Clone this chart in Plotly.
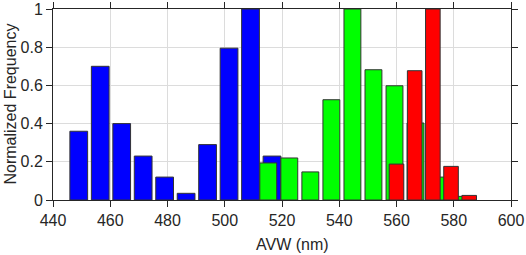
import plotly.graph_objects as go

blue_x = [449, 456.5, 464, 471.5, 479, 486.5, 494, 501.5, 509, 516.5]
blue_y = [0.36, 0.70, 0.40, 0.23, 0.12, 0.035, 0.29, 0.795, 1.0, 0.23]

green_x = [515.2, 522.55, 529.9, 537.25, 544.6, 551.95, 559.3, 566.65, 574.0, 581.35]
green_y = [0.194, 0.22, 0.147, 0.525, 1.0, 0.682, 0.598, 0.403, 0.12, 0.019]

red_x = [560.0, 566.35, 572.7, 579.05, 585.4]
red_y = [0.188, 0.677, 1.0, 0.176, 0.024]

x_ticks = [440, 460, 480, 500, 520, 540, 560, 580, 600]
y_ticks = [0, 0.2, 0.4, 0.6, 0.8, 1]
y_labels = ["0", "0.2", "0.4", "0.6", "0.8", "1"]
x_title = "AVW (nm)"
y_title = "Normalized Frequency"

fig = go.Figure()
line = dict(color="#333333", width=1)
fig.add_trace(go.Bar(x=blue_x, y=blue_y, width=6.2, marker=dict(color="#0000ff", line=line)))
fig.add_trace(go.Bar(x=green_x, y=green_y, width=5.9, marker=dict(color="#00ff00", line=line)))
fig.add_trace(go.Bar(x=red_x, y=red_y, width=5.1, marker=dict(color="#ff0000", line=line)))

font = dict(family="Liberation Sans, Arial, sans-serif", size=16, color="#262626")
axis_common = dict(
    showline=True, linecolor="#262626", linewidth=1, mirror="ticks",
    ticks="outside", ticklen=6, tickcolor="#262626", tickwidth=1,
    showgrid=True, gridcolor="#dcdcdc", gridwidth=1, zeroline=False,
    tickfont=font, title_font=font, automargin=False, ticklabeloverflow="allow",
)
fig.update_layout(
    width=526, height=255, barmode="overlay", showlegend=False,
    paper_bgcolor="white", plot_bgcolor="white",
    margin=dict(l=53, r=15, t=9, b=55),
    xaxis=dict(range=[440, 600], tickvals=x_ticks, **axis_common),
    yaxis=dict(range=[0, 1], tickvals=y_ticks, ticktext=y_labels, **axis_common),
    annotations=[
        dict(text=x_title, xref="paper", yref="paper", x=0.523, y=0,
             xanchor="center", yanchor="top", yshift=-34, showarrow=False, font=font),
        dict(text=y_title, xref="paper", yref="paper", x=0, y=0.5, textangle=-90,
             xanchor="center", yanchor="middle", xshift=-43, showarrow=False, font=font),
    ],
)
fig.write_html("out.html", config={"displayModeBar": False},
               post_script="document.body.style.margin='0';")
